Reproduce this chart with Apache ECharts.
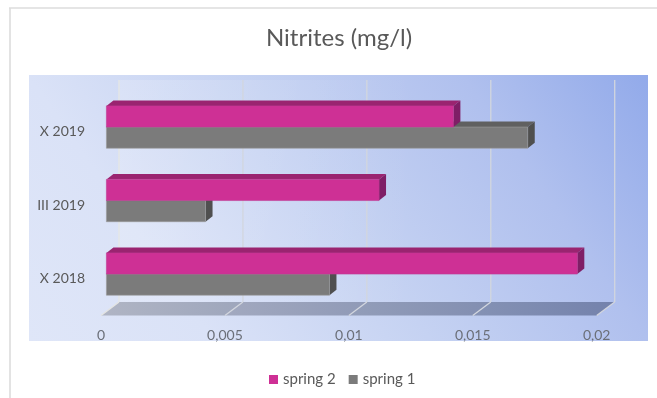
<!DOCTYPE html>
<html><head><meta charset="utf-8">
<style>html,body{margin:0;padding:0;background:#fff}#c{width:657px;height:398px}</style>
<script src="https://cdn.jsdelivr.net/npm/echarts@6/dist/echarts.min.js"></script>
</head><body><div id="c"></div>
<script>
const categories = ['X 2018', 'III 2019', 'X 2019'];
const spring1 = [0.009, 0.004, 0.017];
const spring2 = [0.019, 0.011, 0.014];
const axisTicks = [0, 0.005, 0.01, 0.015, 0.02];
const seriesNames = ['spring 1', 'spring 2'];

const chart = echarts.init(document.getElementById('c'));
const GREY = {front:'#7b7b7b', top:'#606060', side:'#4f4f4f', edge:'#9a9a9a'};
const PINK = {front:'#ce3095', top:'#9a2470', side:'#7f1e66', edge:'#c03a94'};
const BACK = [18, -13.4], BAR_OFF = [5.4, -4.7], BAR_D = [7, -5.5];

function poly(pts, fill, extra) {
  return {type:'polygon', shape:{points:pts}, style:Object.assign({fill:fill}, extra||{})};
}
function barRenderer(pal, above) {
  return function (params, api) {
    const v = api.value(0), c = api.value(1);
    const p0 = api.coord([0, c]), p1 = api.coord([v, c]);
    const h = api.size([0, 1])[1] * 0.288;
    const x0 = p0[0] + BAR_OFF[0], x1 = p1[0] + BAR_OFF[0];
    const mid = p0[1] + BAR_OFF[1];
    const yt = above ? mid - h : mid, yb = above ? mid : mid + h;
    const dx = BAR_D[0], dy = BAR_D[1];
    return {type:'group', children:[
      poly([[x0,yt],[x0+dx,yt+dy],[x1+dx,yt+dy],[x1,yt]], pal.top),
      poly([[x1,yt],[x1+dx,yt+dy],[x1+dx,yb+dy],[x1,yb]], pal.side),
      {type:'rect', shape:{x:x0,y:yt,width:x1-x0,height:h}, style:{fill:pal.front, stroke:pal.edge, lineWidth:0.6}}
    ]};
  };
}
function floorRenderer(params, api) {
  const v = api.value(0), i = params.dataIndex;
  const base = api.coord([v, 0]);
  const y = params.coordSys.y + params.coordSys.height;
  const x = base[0];
  const kids = [];
  if (i < axisTicks.length - 1) {
    const x2 = api.coord([axisTicks[i + 1], 0])[0];
    const t = i / 3;
    const mix = (a, b) => Math.round(a + (b - a) * t);
    const l = [mix(176,133), mix(181,146), mix(196,180)];
    const r = [mix(158,116), mix(166,130), mix(188,172)];
    kids.push(poly([[x,y],[x+BACK[0],y+BACK[1]],[x2+BACK[0],y+BACK[1]],[x2,y]],
      new echarts.graphic.LinearGradient(0,0,1,0,[{offset:0,color:`rgb(${l})`},{offset:1,color:`rgb(${r})`}])));
  }
  const wall = i === 0 ? '#e4e5e3' : '#d2d6de';
  const line = {stroke:wall, lineWidth:1.3};
  kids.push({type:'line', shape:{x1:x+BACK[0],y1:y+BACK[1],x2:x+BACK[0],y2:80}, style:line});
  kids.push({type:'line', shape:{x1:x,y1:y,x2:x+BACK[0],y2:y+BACK[1]}, style:line});
  return {type:'group', children:kids};
}

chart.setOption({
  animation:false,
  backgroundColor:'#fff',
  textStyle:{fontFamily:'Lato'},
  title:{text:'Nitrites (mg/l)', left:334, top:21, textAlign:'center',
    textStyle:{fontFamily:'Lato', fontWeight:'normal', fontSize:24, color:'#595959'}},
  legend:{data:['spring 2','spring 1'], left:264, top:367, icon:'rect', itemWidth:9, itemHeight:9, itemGap:13,
    textStyle:{fontFamily:'Lato', fontSize:15, color:'#595959'}},
  grid:{left:101, width:495.7, top:95, height:220.5, containLabel:false},
  xAxis:{type:'value', min:0, max:0.02, interval:0.005,
    axisLine:{show:false}, axisTick:{show:false}, splitLine:{show:false},
    axisLabel:{margin:13, fontFamily:'Lato', fontSize:14, color:'#6b6f78',
      formatter:v => String(v).replace('.', ',')}},
  yAxis:{type:'category', data:categories,
    axisLine:{show:false}, axisTick:{show:false}, splitLine:{show:false},
    axisLabel:{margin:16, fontFamily:'Lato', fontSize:14, color:'#595959'}},
  graphic:[
    {type:'line', z:-10, shape:{x1:9,y1:8,x2:657,y2:8}, style:{stroke:'#dcdcdc', lineWidth:1.5}},
    {type:'line', z:-10, shape:{x1:10,y1:8,x2:10,y2:398}, style:{stroke:'#dcdcdc', lineWidth:1.6}},
    {type:'rect', z:-10, shape:{x:29,y:75,width:619,height:266},
      style:{fill:new echarts.graphic.LinearGradient(29,341,569,-37,[
        {offset:0,color:'#dfe6f8'},{offset:0.23,color:'#dae2f7'},{offset:0.5,color:'#c5d2f2'},{offset:0.77,color:'#b0c0ee'},{offset:1,color:'#92aaea'}],true)}},
    {type:'rect', z:-9, shape:{x:118.3,y:80,width:497.4,height:221.7},
      style:{fill:new echarts.graphic.LinearGradient(0,0,1,0,[
        {offset:0,color:'rgba(255,255,255,0.18)'},{offset:0.6,color:'rgba(255,255,255,0)'}])}}
  ],
  series:[
    {type:'custom', name:'floor', silent:true, z:1, renderItem:floorRenderer, coordinateSystem:'cartesian2d',
      data:axisTicks.map(t => [t, 0]), encode:{x:0, y:1}, clip:false},
    {type:'custom', name:seriesNames[0], z:2, renderItem:barRenderer(GREY,false), coordinateSystem:'cartesian2d',
      itemStyle:{color:GREY.front}, data:spring1.map((v,i) => [v,i]), encode:{x:0, y:1}, clip:false},
    {type:'custom', name:seriesNames[1], z:3, renderItem:barRenderer(PINK,true), coordinateSystem:'cartesian2d',
      itemStyle:{color:PINK.front}, data:spring2.map((v,i) => [v,i]), encode:{x:0, y:1}, clip:false}
  ]
});
</script></body></html>
